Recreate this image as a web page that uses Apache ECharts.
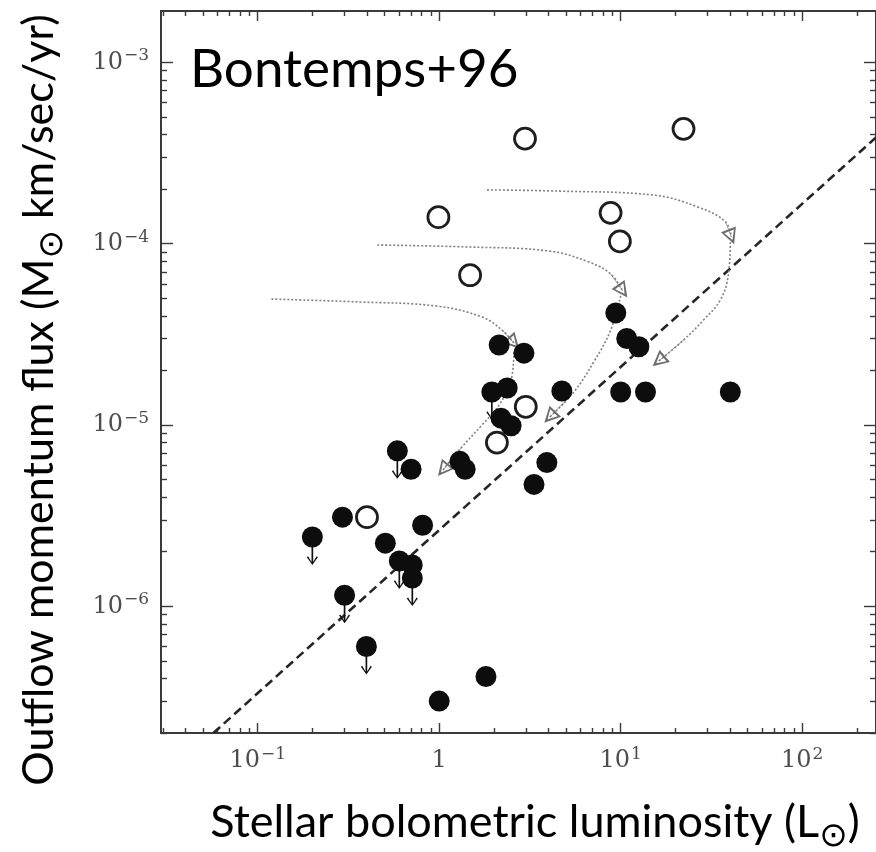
<!DOCTYPE html>
<html>
<head>
<meta charset="utf-8">
<script src="https://cdn.jsdelivr.net/npm/echarts@6/dist/echarts.min.js"></script>
<style>
  html, body { margin: 0; padding: 0; background: #ffffff; }
  #chart { width: 876px; height: 852px; }
</style>
</head>
<body>
<div id="chart"></div>
<script>
// Stellar bolometric luminosity (L_sun) vs CO outflow momentum flux (M_sun km/s/yr)

// Class 0 sources (open circles)
const openL = [2.97, 22.2, 0.99, 8.8, 9.9, 1.48, 3.0, 2.08, 0.40];
const openF = [3.8e-4, 4.3e-4, 1.4e-4, 1.48e-4, 1.03e-4, 6.7e-5, 1.26e-5, 8.0e-6, 3.1e-6];

// Class I detections (filled circles)
const detL = [2.14, 2.93, 2.37, 2.19, 2.49, 4.74, 9.4, 10.8, 12.6, 10.0, 13.7, 40.2,
              0.70, 1.30, 1.39, 3.92, 3.33, 0.293, 0.81, 0.505, 0.71, 1.81, 1.0];
const detF = [2.76e-5, 2.49e-5, 1.60e-5, 1.09e-5, 9.9e-6, 1.54e-5, 4.15e-5, 3.0e-5, 2.7e-5, 1.52e-5, 1.52e-5, 1.52e-5,
              5.7e-6, 6.3e-6, 5.7e-6, 6.2e-6, 4.7e-6, 3.1e-6, 2.8e-6, 2.23e-6, 1.69e-6, 4.1e-7, 3.0e-7];

// Upper limits (filled circles with downward arrows)
const limL = [0.200, 0.301, 0.397, 0.588, 1.95, 0.603, 0.711];
const limF = [2.41e-6, 1.15e-6, 6.0e-7, 7.2e-6, 1.52e-5, 1.78e-6, 1.43e-6];

// Best-fit relation, F ~ L^0.9 (end points)
const fitL = [0.057, 255];
const fitF = [2.0e-7, 3.85e-4];

// Evolutionary tracks: [L, F] along each dotted curve, ending at an arrow head
const trackA1 = [[1.835, 1.98e-4], [4.56, 1.95e-4], [14.8, 1.86e-4], [26.8, 1.59e-4], [37.8, 1.32e-4], [40.7, 1.09e-4]];
const trackA2 = [[40.2, 1.02e-4], [39.2, 6.72e-5], [35.4, 4.89e-5], [28.6, 3.79e-5], [22.2, 2.94e-5], [16.2, 2.25e-5]];
const trackB1 = [[0.456, 9.83e-5], [1.46, 9.59e-5], [4.02, 9.11e-5], [6.67, 7.93e-5], [8.81, 6.81e-5], [10.26, 5.48e-5]];
const trackB2 = [[10.0, 5.15e-5], [8.81, 3.34e-5], [7.11, 2.23e-5], [5.52, 1.52e-5], [4.07, 1.107e-5]];
const trackC1 = [[0.119, 4.95e-5], [0.363, 4.77e-5], [0.963, 4.53e-5], [1.72, 3.94e-5], [2.22, 3.34e-5], [2.58, 2.83e-5]];
const trackC2 = [[2.58, 2.53e-5], [2.49, 1.77e-5], [2.14, 1.29e-5], [1.72, 1.0e-5], [1.32, 7.47e-6], [1.05, 5.65e-6]];

// Decade tick values
const xDecades = [0.1, 1, 10, 100];
const yDecades = [1e-6, 1e-5, 1e-4, 1e-3];

const lg = Math.log10;
const pairs = (L, F) => L.map((l, i) => [lg(l), lg(F[i])]);
const logPts = t => t.map(p => [lg(p[0]), lg(p[1])]);

const X_MIN = -1.533, X_MAX = 2.407;
const Y_MIN = -6.699, Y_MAX = -2.7165;

function minorTicks(lo, hi) {
  const out = [];
  for (let n = Math.floor(lo); n <= Math.ceil(hi); n++) {
    for (let k = 2; k <= 9; k++) {
      const v = n + lg(k);
      if (v > lo && v < hi) out.push(v);
    }
  }
  return out;
}

const xMajor = xDecades.map(lg);
const yMajor = yDecades.map(lg);
const xMinor = minorTicks(X_MIN, X_MAX);
const yMinor = minorTicks(Y_MIN, Y_MAX);

function powLabel(v) {
  const n = Math.round(v);
  if (n === 0) return '{b|1}';
  return '{b|10}{e|' + (n < 0 ? '\u2212' + (-n) : String(n)) + '}';
}

const tickRich = {
  b: { fontFamily: 'DejaVu Serif', fontSize: 24, color: '#4d4d4d', lineHeight: 30 },
  e: { fontFamily: 'DejaVu Serif', fontSize: 17, color: '#4d4d4d', lineHeight: 14, verticalAlign: 'top', padding: [0, 0, 0, 1] }
};

const frameColor = '#3a3a3a';

function axis(kind, position, ticks, len, labels) {
  const isX = kind === 'x';
  return {
    type: 'value',
    position: position,
    min: isX ? X_MIN : Y_MIN,
    max: isX ? X_MAX : Y_MAX,
    axisLine: { show: true, onZero: false, lineStyle: { color: frameColor, width: 2 } },
    axisTick: { show: true, inside: true, length: len, customValues: ticks,
                lineStyle: { color: frameColor, width: 1.4 } },
    axisLabel: labels ? {
      show: true, customValues: ticks, formatter: powLabel, rich: tickRich,
      margin: isX ? 13 : 12
    } : { show: false },
    splitLine: { show: false },
    minorTick: { show: false }
  };
}

const headPath = 'path://M5,0 L10,10 L0,10 Z M5,3 L1.8,8.7 L8.2,8.7 Z';
const limitArrowPath = 'path://M4.2,0 L5.8,0 L5.8,25 L9,19.3 L10.2,20.3 L5,28 L-0.2,20.3 L1,19.3 L4.2,25 Z';

const tracks = [trackA1, trackA2, trackB1, trackB2, trackC1, trackC2].map(logPts);

const trackSeries = tracks.map(t => ({
  type: 'line',
  data: t,
  smooth: 0.4,
  symbol: 'none',
  silent: true,
  z: 2,
  lineStyle: { color: '#808080', width: 1.6, type: [2, 2] }
}));

function titleRich(size) {
  return {
    a: { fontFamily: 'Lato', fontSize: size, lineHeight: size, verticalAlign: 'top', fill: '#000000' },
    s: { fontFamily: 'DejaVu Sans', fontSize: 34, lineHeight: size + 9, verticalAlign: 'bottom', fill: '#000000' }
  };
}

const option = {
  animation: false,
  backgroundColor: '#ffffff',
  grid: { left: 161, top: 11, width: 717, height: 722 },
  xAxis: [
    axis('x', 'bottom', xMajor, 10, true),
    axis('x', 'bottom', xMinor, 5, false),
    axis('x', 'top', xMajor, 10, false),
    axis('x', 'top', xMinor, 5, false)
  ],
  yAxis: [
    axis('y', 'left', yMajor, 12, true),
    axis('y', 'left', yMinor, 6, false),
    axis('y', 'right', yMajor, 12, false),
    axis('y', 'right', yMinor, 6, false)
  ],
  series: [
    {
      type: 'line',
      data: pairs(fitL, fitF),
      symbol: 'none',
      silent: true,
      z: 1,
      lineStyle: { color: '#262626', width: 2.6, type: [9, 5] }
    },
    ...trackSeries,
    {
      type: 'lines',
      coordinateSystem: 'cartesian2d',
      silent: true,
      z: 3,
      data: tracks.map(t => ({ coords: [t[t.length - 2], t[t.length - 1]] })),
      symbol: ['none', headPath],
      symbolSize: 16,
      lineStyle: { color: '#6e6e6e', width: 0.6, opacity: 1 }
    },
    {
      type: 'scatter',
      data: pairs(limL, limF),
      symbol: limitArrowPath,
      symbolSize: [11, 28],
      symbolOffset: [0, 14],
      silent: true,
      z: 4,
      itemStyle: { color: '#111111', opacity: 1 }
    },
    {
      type: 'scatter',
      data: pairs(limL, limF),
      symbol: 'circle',
      symbolSize: 21,
      silent: true,
      z: 5,
      itemStyle: { color: '#0d0d0d', opacity: 1 }
    },
    {
      type: 'scatter',
      data: pairs(detL, detF),
      symbol: 'circle',
      symbolSize: 21,
      silent: true,
      z: 5,
      itemStyle: { color: '#0d0d0d', opacity: 1 }
    },
    {
      type: 'scatter',
      data: pairs(openL, openF),
      symbol: 'circle',
      symbolSize: 21,
      silent: true,
      z: 6,
      itemStyle: { color: 'rgba(255,255,255,0)', borderColor: '#1e1e1e', borderWidth: 2.8, opacity: 1 }
    }
  ],
  graphic: [
    {
      type: 'text',
      x: 190, y: 70,
      style: {
        text: 'Bontemps+96',
        fontFamily: 'Lato', fontSize: 53, fill: '#000000',
        align: 'left', verticalAlign: 'middle'
      }
    },
    {
      type: 'text',
      x: 535, y: 827,
      style: {
        text: '{a|Stellar bolometric luminosity (L}{s|\u2299}{a|)}',
        align: 'center', verticalAlign: 'middle',
        rich: titleRich(45)
      }
    },
    {
      type: 'text',
      x: 44, y: 400,
      rotation: Math.PI / 2,
      style: {
        text: '{a|Outflow momentum flux (M}{s|\u2299}{a| km/sec/yr)}',
        align: 'center', verticalAlign: 'middle',
        rich: titleRich(43)
      }
    }
  ]
};

const chart = echarts.init(document.getElementById('chart'), null, { renderer: 'canvas' });
chart.setOption(option);
</script>
</body>
</html>
